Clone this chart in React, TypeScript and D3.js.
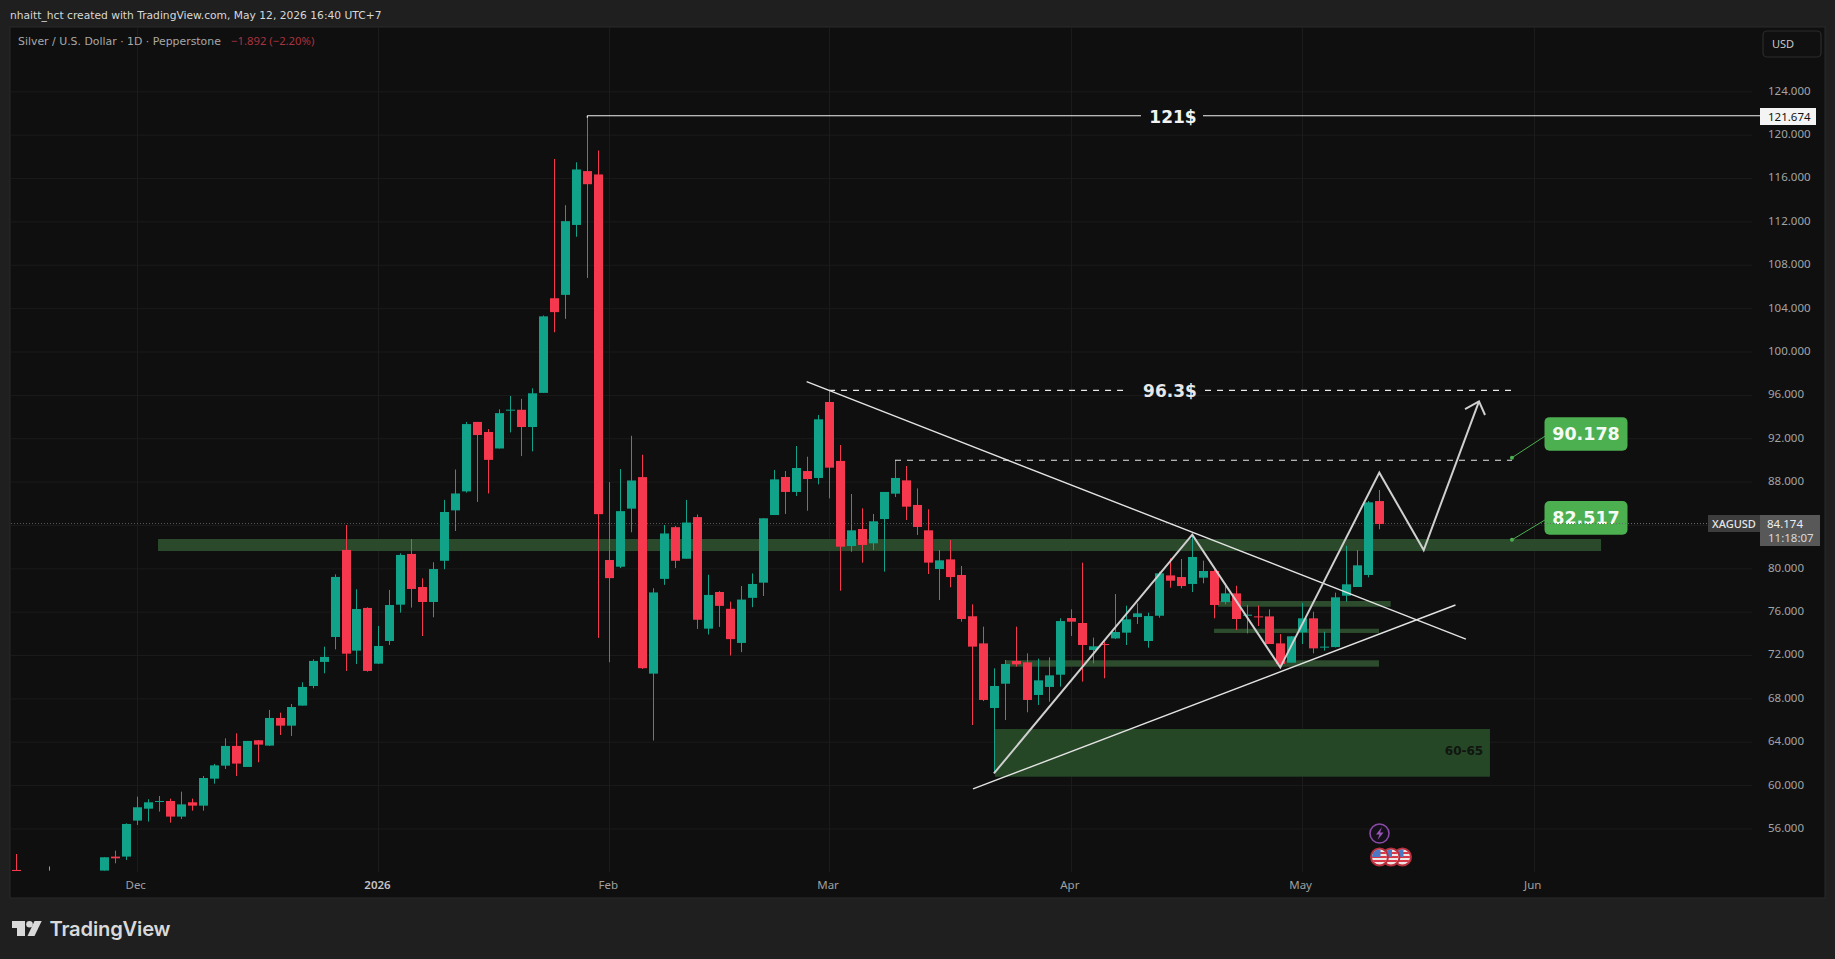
import React from "react";
import * as d3 from "d3";

const W = 1835, H = 959;
const firstIndex = -3;
const opens = [52.04,53.33,53.33,56.65,57.75,58.37,58.46,57.02,58.34,58.03,60.52,61.72,63.54,61.60,64.06,63.57,66.12,65.41,67.26,69.07,71.29,73.59,81.62,72.33,76.27,71.13,73.22,76.57,81.25,78.20,76.82,80.62,85.27,87.02,93.43,92.50,90.98,94.48,94.55,92.96,96.11,104.84,105.15,111.60,116.57,116.26,80.69,80.07,85.43,88.34,70.21,78.95,83.72,80.81,84.65,74.36,77.74,76.19,73.04,77.20,78.60,84.84,88.35,86.97,88.90,88.26,95.27,89.83,81.98,83.55,82.23,84.47,86.81,88.04,85.77,83.43,79.86,80.75,79.31,75.50,73.00,67.04,69.28,71.38,71.25,68.24,68.98,70.11,75.34,74.88,72.39,72.94,73.46,73.99,75.43,73.22,75.55,79.27,79.12,78.48,79.06,79.68,76.81,77.61,75.55,75.49,75.49,73.00,71.22,74.02,75.31,72.63,72.66,77.40,78.20,79.31,86.13];
const highs = [53.27,53.88,56.40,58.86,58.62,58.92,58.68,59.32,58.68,60.77,61.88,64.24,64.70,64.00,64.09,66.86,66.61,67.41,69.41,71.53,72.70,79.37,83.92,77.99,76.33,74.61,77.93,81.31,82.63,79.00,80.48,86.24,89.04,93.43,93.43,92.77,94.59,95.83,95.56,96.53,103.25,117.69,113.42,117.38,121.674,118.47,87.88,89.08,92.15,90.40,78.09,83.92,83.84,86.24,84.89,79.33,77.82,76.85,78.29,79.45,84.54,89.00,88.90,91.21,90.22,94.07,96.37,91.30,86.78,85.46,84.94,86.97,89.90,89.36,87.30,85.37,81.61,82.54,80.14,76.60,74.54,70.70,71.47,74.54,72.08,71.59,71.71,75.31,76.14,80.45,73.53,73.16,77.55,76.48,76.69,75.83,79.61,80.84,80.78,82.96,80.63,79.92,78.54,78.32,76.54,76.48,76.14,73.86,73.65,76.75,75.92,74.08,77.68,82.01,81.61,86.13,87.15];
const lows = [52.04,52.71,53.02,56.25,56.56,57.48,56.46,56.80,57.57,57.57,60.06,61.41,60.77,61.60,62.03,63.54,64.55,64.46,67.26,68.86,70.24,72.45,70.46,71.10,70.39,71.10,72.85,75.84,76.30,73.68,75.41,79.84,83.37,86.91,86.05,86.83,90.98,92.46,90.28,90.71,96.11,101.70,102.94,110.51,106.71,73.51,71.26,79.95,83.25,70.64,64.04,78.40,79.95,80.81,74.33,73.82,74.52,71.88,72.19,76.34,77.37,84.84,84.94,86.60,85.24,87.67,86.38,77.86,81.46,80.45,81.61,79.62,86.50,84.38,83.00,79.40,77.00,78.17,75.00,65.47,67.68,61.13,65.93,70.85,66.64,67.32,67.62,69.01,73.68,69.47,71.16,69.78,73.40,72.85,74.79,72.60,75.37,78.14,78.08,77.74,78.54,75.31,76.60,74.23,73.92,74.60,72.94,70.85,71.22,72.94,72.08,72.33,72.63,76.85,78.20,79.09,83.52];
const closes = [53.27,53.17,56.34,57.88,58.34,58.46,57.02,58.15,58.03,60.58,61.75,63.54,61.91,64.00,63.66,66.12,65.41,67.13,68.98,71.38,71.75,79.13,72.05,76.17,70.46,72.76,76.54,81.16,78.02,76.82,79.86,85.12,86.83,93.23,92.22,89.93,94.24,94.56,92.96,96.07,103.17,103.56,111.95,116.72,115.36,84.92,79.02,85.20,88.03,70.71,77.70,83.14,80.62,84.15,75.18,77.47,76.46,73.39,77.04,78.48,84.54,88.13,86.97,89.18,88.16,93.67,89.21,81.92,83.43,82.08,84.26,86.97,88.26,85.61,83.74,80.45,80.66,79.12,75.25,72.70,67.78,69.07,71.10,71.07,67.78,69.59,70.05,75.06,75.00,72.85,72.73,72.85,74.05,75.22,75.77,75.52,79.46,78.78,78.29,80.97,79.68,76.54,77.61,75.25,75.65,75.40,72.94,71.10,73.65,75.31,72.54,72.70,77.25,78.45,80.20,86.01,84.01];

const strayIdx = [-11];
const strayOpen = [52.10];
const strayHigh = [53.57];
const strayLow = [52.00];
const strayClose = [52.00];
const tickOnlyIdx = -8;
const tickOnlyHigh = 52.42;
const tickOnlyLow = 52.04;

const priceTicks = [56,60,64,68,72,76,80,84,88,92,96,100,104,108,112,116,120,124];
const hiddenPriceLabels = [84];
const timeIdx = [0, 22, 43, 63, 85, 106, 127.12];
const timeLabels = ["Dec", "2026", "Feb", "Mar", "Apr", "May", "Jun"];

const x = d3.scaleLinear().domain([0, 127]).range([136.7, 1532.4]);
const y = d3.scaleLinear().domain([56, 124]).range([827.66, 90.54]);
const gridShift = 1.3;

const GREEN = "#11a389";
const RED = "#f5384e";
const ZONE = "#2a4a2b";
const mono = "'DejaVu Sans', sans-serif";
const AXIS = "'Noto Sans', sans-serif";

const high121 = 121.674, level963 = 96.34, level90 = 89.9;
const downLineIdx = [60.96, 120.95], downLineVal = [97.14, 73.40];
const upLineIdx = [76.1, 120.0], upLineVal = [59.57, 76.54];
const zigIdx = [78, 96.05, 104.06, 113.07, 117.11, 122.14];
const zigVal = [61.0, 83.03, 70.79, 88.75, 81.61, 95.32];
const barbIdx = [120.87, 122.14, 122.69];
const barbVal = [94.62, 95.32, 94.07];

const zoneStart = [1.94, 78.1, 98.39, 98.03, 79.1];
const zoneEnd = [133.25, 123.14, 114.1, 113.04, 113.04];
const zoneTop = [82.63, 65.10, 76.91, 74.35, 71.44];
const zoneBottom = [81.52, 60.70, 76.38, 73.96, 70.85];
const zoneFill = [ZONE, "#254726", "#2c4c2d", "#2c4c2d", "#2c4c2d"];

const calloutText = ["90.178", "82.517"];
const calloutIdx = 125.14;
const calloutVal = [90.13, 82.55];
const calloutBoxVal = [93.87, 86.13];

const line = d3.line<[number, number]>().x(d => x(d[0])).y(d => y(d[1]));
const pairs = (a: number[], b: number[]) => a.map((v, i) => [v, b[i]] as [number, number]);

function Candle({ i, o, h, l, c }: { i: number; o: number; h: number; l: number; c: number }) {
  const col = c >= o ? GREEN : RED;
  const cx = Math.round(x(i)) + 0.5;
  const top = y(Math.max(o, c));
  const bot = y(Math.min(o, c));
  return (
    <g>
      <line x1={cx} x2={cx} y1={y(h)} y2={y(l)} stroke={col} strokeWidth={1} />
      <rect x={cx - 4.5} y={top} width={9} height={Math.max(1, bot - top)} fill={col} />
    </g>
  );
}

function Flag({ cx, cy, id }: { cx: number; cy: number; id: string }) {
  return (
    <g>
      <clipPath id={id}><circle cx={cx} cy={cy} r={7.5} /></clipPath>
      <circle cx={cx} cy={cy} r={8.5} fill="#f0e4e4" stroke="#b92f3c" strokeWidth={2} />
      <g clipPath={`url(#${id})`}>
        {[-5, -1, 3].map(d => <rect key={d} x={cx - 9} y={cy + d} width={18} height={2} fill="#d8394a" />)}
        <rect x={cx - 8} y={cy - 8} width={9} height={8} fill="#4a78c4" />
      </g>
    </g>
  );
}

export default function App() {
  const xEnd = 1752;
  const lastY = y(84.174) + gridShift;
  return (
    <svg width={W} height={H} style={{ position: "absolute", left: 0, top: 0, display: "block" }} xmlns="http://www.w3.org/2000/svg">
      <rect width={W} height={H} fill="#1f1f1f" />
      <rect x={10} y={27} width={1815} height={871} fill="#0f0f0f" stroke="#2a2a2a" strokeWidth={1} />
      <text x={10} y={19} fontFamily={mono} fontSize={10.7} fill="#d8d8d8">nhaitt_hct created with TradingView.com, May 12, 2026 16:40 UTC+7</text>

      {priceTicks.map(t => (
        <line key={t} x1={11} x2={xEnd} y1={y(t) + gridShift} y2={y(t) + gridShift} stroke="#1b1b1b" strokeWidth={1} />
      ))}
      {timeIdx.map(i => (
        <line key={i} x1={Math.round(x(i)) + 0.5} x2={Math.round(x(i)) + 0.5} y1={28} y2={872} stroke="#1b1b1b" strokeWidth={1} />
      ))}

      <text x={18} y={45} fontFamily={mono} fontSize={10.9} fill="#a8a8a8">Silver / U.S. Dollar · 1D · Pepperstone</text>
      <text x={231} y={45} fontFamily={AXIS} fontSize={11.3} fill="#a83240">−1.892 (−2.20%)</text>

      <line x1={11} x2={1707} y1={lastY} y2={lastY} stroke="#5a5a5a" strokeWidth={1} strokeDasharray="1 2" />

      {zoneStart.map((s, i) => (
        <rect key={i} x={x(s)} y={y(zoneTop[i])} width={x(zoneEnd[i]) - x(s)} height={y(zoneBottom[i]) - y(zoneTop[i])} fill={zoneFill[i]} />
      ))}
      <text x={1464} y={755} textAnchor="middle" fontFamily={mono} fontSize={12} fontWeight={700} fill="#101510">60-65</text>

      {strayIdx.map((i, k) => <Candle key={i} i={i} o={strayOpen[k]} h={strayHigh[k]} l={strayLow[k]} c={strayClose[k]} />)}
      <line x1={Math.round(x(tickOnlyIdx)) + 0.5} x2={Math.round(x(tickOnlyIdx)) + 0.5} y1={y(tickOnlyHigh)} y2={y(tickOnlyLow)} stroke="#7fa79f" strokeWidth={1} />
      {opens.map((o, k) => <Candle key={k} i={firstIndex + k} o={o} h={highs[k]} l={lows[k]} c={closes[k]} />)}

      <path d={line(pairs(downLineIdx, downLineVal)) as string} fill="none" stroke="#e4e4e4" strokeWidth={1.4} />
      <path d={line(pairs(upLineIdx, upLineVal)) as string} fill="none" stroke="#e4e4e4" strokeWidth={1.4} />
      <path d={line(pairs(zigIdx, zigVal)) as string} fill="none" stroke="#cfcfcf" strokeWidth={2} strokeLinejoin="miter" />
      <path d={line(pairs(barbIdx, barbVal)) as string} fill="none" stroke="#cfcfcf" strokeWidth={2} />

      <line x1={x(41)} x2={x(41)} y1={y(high121)} y2={y(high121) + 2} stroke="#fff" />
      <line x1={x(41)} x2={1141} y1={y(high121)} y2={y(high121)} stroke="#f2f2f2" strokeWidth={1.2} />
      <line x1={1203} x2={1760} y1={y(high121)} y2={y(high121)} stroke="#f2f2f2" strokeWidth={1.2} />
      <text x={1173} y={123} textAnchor="middle" fontFamily={mono} fontSize={17} fontWeight={700} fill="#f2f2f2">121$</text>

      <line x1={x(63)} x2={1123} y1={y(level963)} y2={y(level963)} stroke="#e8e8e8" strokeWidth={1.1} strokeDasharray="6 6" />
      <line x1={1205} x2={1512} y1={y(level963)} y2={y(level963)} stroke="#e8e8e8" strokeWidth={1.1} strokeDasharray="6 6" />
      <text x={1170} y={397} textAnchor="middle" fontFamily={mono} fontSize={17} fontWeight={700} fill="#e8e8e8">96.3$</text>

      <line x1={x(69)} x2={1512} y1={y(level90)} y2={y(level90)} stroke="#e8e8e8" strokeWidth={1.1} strokeDasharray="6 6" />

      {calloutText.map((t, i) => {
        const bx = 1544.5, bw = 83, bh = 33.6;
        const by = y(calloutBoxVal[i]);
        return (
          <g key={t}>
            <line x1={x(calloutIdx)} y1={y(calloutVal[i])} x2={bx + 2} y2={by + 18} stroke="#4caf50" strokeWidth={1} />
            <circle cx={x(calloutIdx)} cy={y(calloutVal[i])} r={2} fill="#4caf50" />
            <rect x={bx} y={by} width={bw} height={bh} rx={5} fill="#4caf50" />
            <text x={bx + bw / 2} y={by + 23} textAnchor="middle" fontFamily={mono} fontSize={17.5} fontWeight={700} fill="#f4fbf4">{t}</text>
          </g>
        );
      })}
      <line x1={1544} x2={1707} y1={lastY} y2={lastY} stroke="#6a6a6a" strokeWidth={1} strokeDasharray="1 2" />

      {/* price axis */}
      {priceTicks.filter(t => !hiddenPriceLabels.includes(t)).map(t => (
        <text key={t} x={1768} y={y(t) + 4.2} fontFamily={AXIS} fontSize={11.5} fill="#a4a4a4">{t.toFixed(3)}</text>
      ))}
      <rect x={1760} y={108} width={56} height={17} fill="#f4f4f4" />
      <text x={1768} y={120.5} fontFamily={AXIS} fontSize={11.5} fill="#111">121.674</text>
      <rect x={1708} y={515} width={52} height={17} fill="#3d3d3d" />
      <text x={1712} y={527.5} fontFamily={AXIS} fontSize={11} fontWeight={500} fill="#e6e6e6">XAGUSD</text>
      <rect x={1760} y={515} width={60} height={31} fill="#585858" />
      <text x={1767} y={528} fontFamily={AXIS} fontSize={11.5} fill="#eee">84.174</text>
      <text x={1768} y={542} fontFamily={AXIS} fontSize={11.5} fill="#d8d8d8">11:18:07</text>
      <rect x={1763} y={31} width={58} height={26} rx={4} fill="#101010" stroke="#2c2c2c" strokeWidth={1.2} />
      <text x={1772} y={48} fontFamily={AXIS} fontSize={11} fill="#c8c8c8">USD</text>

      {/* time axis */}
      {timeIdx.map((i, k) => (
        <text key={i} x={x(i) - 1} y={889} textAnchor="middle" fontFamily={AXIS} fontSize={11.5}
          fontWeight={timeLabels[k] === "2026" ? 600 : 400} fill={timeLabels[k] === "2026" ? "#c4c4c4" : "#a0a0a0"}>{timeLabels[k]}</text>
      ))}

      {/* event icons */}
      <circle cx={1379.5} cy={833.5} r={9.5} fill="#14101a" stroke="#8a4aa8" strokeWidth={1.6} />
      <path d="M1382 827 l-6 7.5 h3.5 l-2 5.5 l6 -7.5 h-3.5 z" fill="#9a55b8" />
      <Flag cx={1402.5} cy={857} id="f3" />
      <Flag cx={1391} cy={857} id="f2" />
      <Flag cx={1379.5} cy={857} id="f1" />

      {/* logo */}
      <g fill="#d9d9d9">
        <path d="M12 921 H25 V936 H17 V928 H12 Z" />
        <circle cx={29.5} cy={924.3} r={3.3} />
        <path d="M34.5 921 H41.7 L34.5 936 H27.5 Z" />
      </g>
      <text x={49.5} y={936} fontFamily="Inter, sans-serif" fontSize={20.2} fontWeight={600} letterSpacing={-0.2} fill="#d9d9d9">TradingView</text>
    </svg>
  );
}
